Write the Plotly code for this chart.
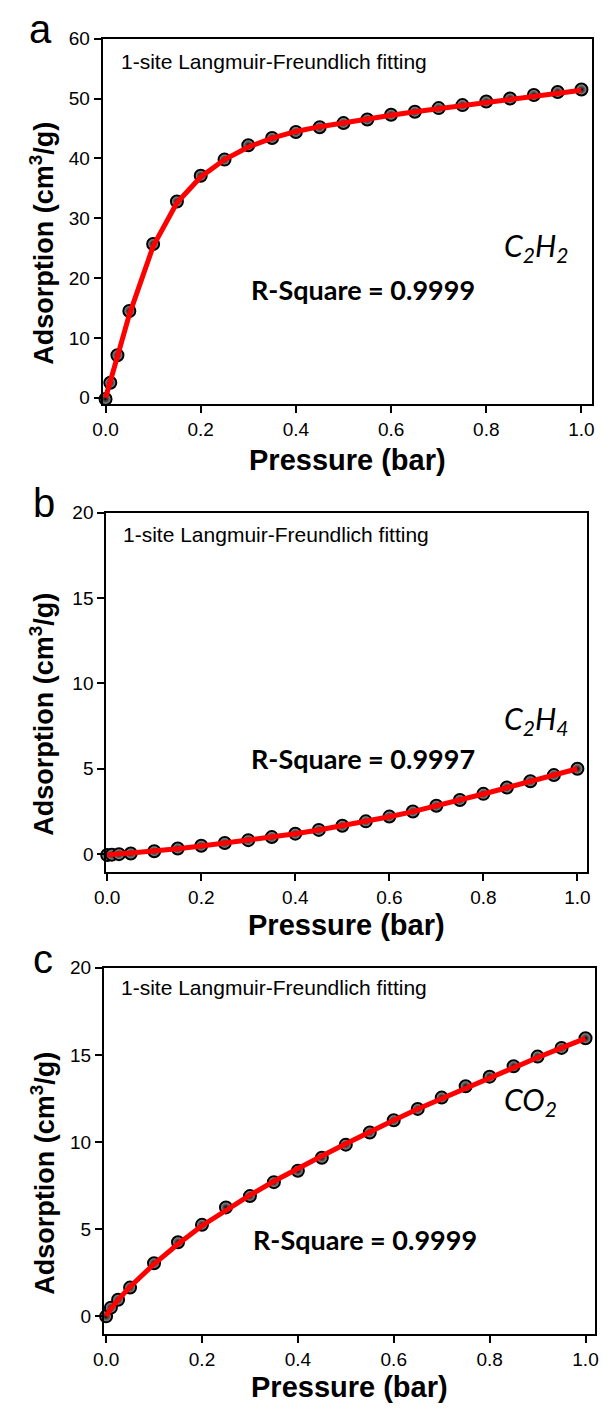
import plotly.graph_objects as go

W, H = 602, 1412

pressure = [0.0, 0.01, 0.025, 0.05, 0.1, 0.15, 0.2, 0.25, 0.3, 0.35, 0.4, 0.45,
            0.5, 0.55, 0.6, 0.65, 0.7, 0.75, 0.8, 0.85, 0.9, 0.95, 1.0]

c2h2_data = [-0.2, 2.5, 7.1, 14.5, 25.7, 32.8, 37.1, 39.8, 42.2, 43.4, 44.4, 45.2,
             45.9, 46.5, 47.3, 47.8, 48.4, 48.9, 49.5, 50.0, 50.6, 51.1, 51.5]
c2h2_fit = [0.0, 2.6, 6.9, 13.9, 25.3, 32.6, 36.9, 39.8, 41.9, 43.4, 44.5, 45.3,
            46.0, 46.6, 47.2, 47.8, 48.3, 48.9, 49.4, 49.9, 50.4, 50.9, 51.4]

c2h4_data = [-0.05, -0.03, 0.0, 0.04, 0.17, 0.33, 0.49, 0.65, 0.82, 1.0, 1.2, 1.42,
             1.66, 1.92, 2.2, 2.5, 2.83, 3.17, 3.53, 3.9, 4.27, 4.63, 5.0]
c2h4_fit = [-0.05, 0.0, 0.03, 0.07, 0.17, 0.32, 0.48, 0.64, 0.81, 0.99, 1.19, 1.41,
            1.65, 1.91, 2.19, 2.49, 2.82, 3.16, 3.52, 3.89, 4.26, 4.63, 5.0]

co2_data = [0.0, 0.5, 0.95, 1.65, 3.05, 4.25, 5.25, 6.25, 6.9, 7.7, 8.35, 9.1,
            9.85, 10.55, 11.25, 11.9, 12.55, 13.2, 13.75, 14.35, 14.9, 15.4, 15.95]
co2_fit = [0.0, 0.45, 0.95, 1.7, 3.0, 4.15, 5.2, 6.1, 6.95, 7.75, 8.5, 9.2,
           9.9, 10.6, 11.25, 11.9, 12.5, 13.1, 13.7, 14.3, 14.85, 15.4, 15.95]

x_major = [0, 0.2, 0.4, 0.6, 0.8, 1.0]
x_major_text = ["0.0", "0.2", "0.4", "0.6", "0.8", "1.0"]
x_minor = [0.1, 0.3, 0.5, 0.7, 0.9]
y_major = [[0, 10, 20, 30, 40, 50, 60], [0, 5, 10, 15, 20], [0, 5, 10, 15, 20]]
y_minor = [[5, 15, 25, 35, 45, 55], [2.5, 7.5, 12.5, 17.5], [2.5, 7.5, 12.5, 17.5]]

panel_letters = ["a", "b", "c"]
gas_labels = ["<i>C<sub>2</sub>H<sub>2</sub></i>", "<i>C<sub>2</sub>H<sub>4</sub></i>",
              "<i>CO<sub>2</sub></i>"]
r_square = ["R-Square = 0.9999", "R-Square = 0.9997", "R-Square = 0.9999"]
fit_label = "1-site Langmuir-Freundlich fitting"
x_title = "Pressure (bar)"
y_title = "Adsorption (cm<sup>3</sup>/g)"

# pixel geometry of panels: left, right, top, bottom
panels = [
    dict(l=93, r=595, t=29, b=398, xr=[-0.006, 1.0225], yr=[-1, 60]),
    dict(l=96.7, r=590, t=508, b=871, xr=[-0.002, 1.021], yr=[-1.03, 20]),
    dict(l=94.3, r=598, t=968, b=1338, xr=[-0.0045, 1.02], yr=[-1, 20]),
]
series = [(c2h2_data, c2h2_fit), (c2h4_data, c2h4_fit), (co2_data, co2_fit)]

text_pos = [
    dict(letter=(29, 19), fit=(110, 52), rsq=(243, 282), gas=(503, 240), yt=(31, 236), xt=(344, 455)),
    dict(letter=(33, 498), fit=(112, 530), rsq=(243, 757), gas=(503, 718), yt=(31, 712), xt=(343, 925)),
    dict(letter=(32, 959), fit=(110, 988), rsq=(245, 1243), gas=(503, 1103), yt=(31, 1176), xt=(346, 1392)),
]

FONT = "Arial, Liberation Sans, sans-serif"
COMIC = "Comic Sans MS, Lato, sans-serif"


def px(x):
    return x / W


def py(y):
    return 1 - y / H


fig = go.Figure()
layout = dict(width=W, height=H, margin=dict(l=0, r=0, t=0, b=0),
              paper_bgcolor="white", plot_bgcolor="white", showlegend=False)
annotations = []
axis_common = dict(showline=True, linecolor="black", linewidth=2, mirror=True,
                   ticks="outside", ticklen=7, tickwidth=2, tickcolor="black",
                   showgrid=False, zeroline=False,
                   tickfont=dict(family=FONT, size=19, color="black"))
minor_common = dict(showline=False, ticks="outside", ticklen=4, tickwidth=2, tickcolor="black",
                    showgrid=False, zeroline=False, showticklabels=False)

for i, (p, (data, fit), tp) in enumerate(zip(panels, series, text_pos)):
    n = "" if i == 0 else str(i + 1)
    xa, ya = "x" + n, "y" + n
    xdom = [px(p["l"]), px(p["r"])]
    ydom = [py(p["b"]), py(p["t"])]
    layout["xaxis" + n] = dict(axis_common, domain=xdom, range=p["xr"], anchor=ya,
                               tickvals=x_major, ticktext=x_major_text)
    layout["yaxis" + n] = dict(axis_common, domain=ydom, range=p["yr"], anchor=xa,
                               tickvals=y_major[i])
    # minor tick overlay axes
    m = str(i + 4)
    layout["xaxis" + m] = dict(minor_common, domain=xdom, range=p["xr"], anchor=ya,
                               overlaying=xa, side="bottom", tickvals=x_minor)
    layout["yaxis" + m] = dict(minor_common, domain=ydom, range=p["yr"], anchor=xa,
                               overlaying=ya, side="left", tickvals=y_minor[i])

    fig.add_trace(go.Scatter(x=pressure, y=data, mode="markers", xaxis=xa, yaxis=ya,
                             marker=dict(size=12, color="#a8a8a8",
                                         gradient=dict(type="radial", color="#000000"),
                                         line=dict(color="black", width=2)),
                             cliponaxis=False))
    fig.add_trace(go.Scatter(x=pressure, y=fit, mode="lines", xaxis=xa, yaxis=ya,
                             line=dict(color="#ff0000", width=5), cliponaxis=False))

    annotations.append(dict(text=panel_letters[i], x=px(tp["letter"][0]), y=py(tp["letter"][1]),
                            xref="paper", yref="paper", xanchor="center", yanchor="middle",
                            showarrow=False, font=dict(family=FONT, size=40, color="black")))
    annotations.append(dict(text=fit_label, x=px(tp["fit"][0]), y=py(tp["fit"][1]),
                            xref="paper", yref="paper", xanchor="left", yanchor="middle",
                            showarrow=False, font=dict(family=FONT, size=21, color="black")))
    annotations.append(dict(text="<b>" + r_square[i] + "</b>", x=px(tp["rsq"][0]), y=py(tp["rsq"][1]),
                            xref="paper", yref="paper", xanchor="left", yanchor="middle",
                            showarrow=False, font=dict(family=COMIC, size=27, color="black")))
    annotations.append(dict(text=gas_labels[i], x=px(tp["gas"][0]), y=py(tp["gas"][1]),
                            xref="paper", yref="paper", xanchor="left", yanchor="middle",
                            showarrow=False, font=dict(family=COMIC, size=30, color="black")))
    annotations.append(dict(text="<b>" + y_title + "</b>", x=px(tp["yt"][0]), y=py(tp["yt"][1]),
                            xref="paper", yref="paper", xanchor="center", yanchor="middle", textangle=-90,
                            showarrow=False, font=dict(family=FONT, size=27, color="black")))
    annotations.append(dict(text="<b>" + x_title + "</b>", x=px(tp["xt"][0]), y=py(tp["xt"][1]),
                            xref="paper", yref="paper", xanchor="center", yanchor="middle",
                            showarrow=False, font=dict(family=FONT, size=29, color="black")))

layout["annotations"] = annotations
fig.update_layout(**layout)
fig.write_html("out.html")
